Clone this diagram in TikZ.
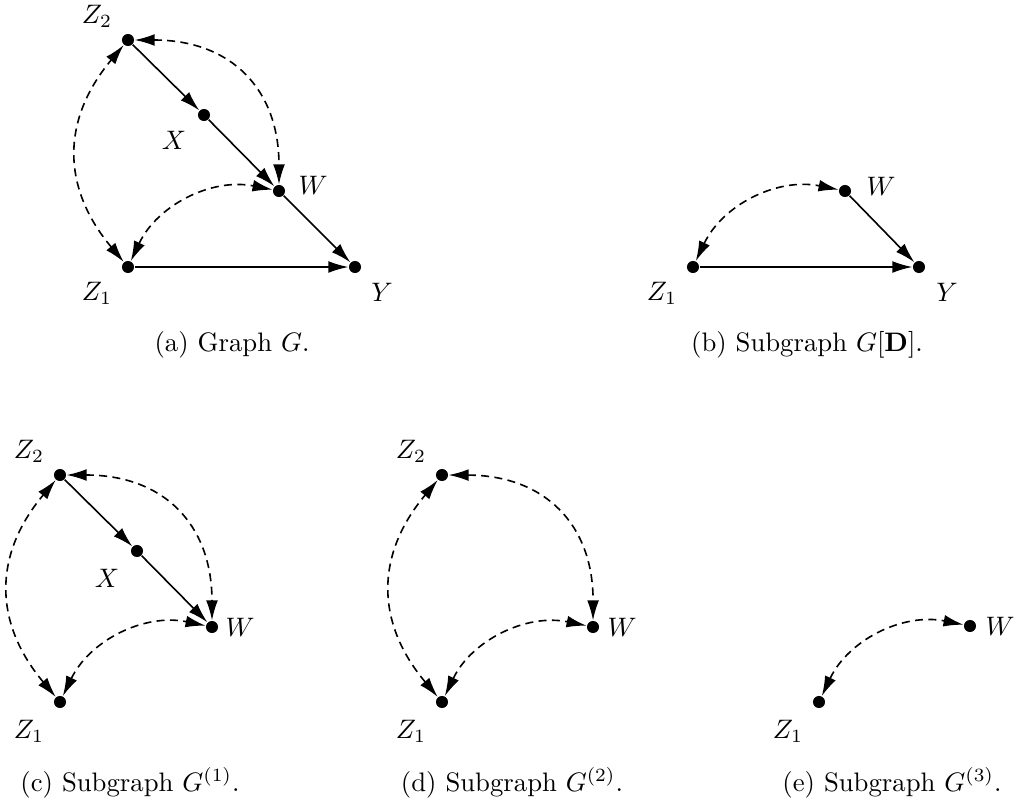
\documentclass[tikz,border=0pt]{standalone}
\usetikzlibrary{arrows.meta}
\begin{document}
\begin{tikzpicture}[x=0.01316cm,y=0.01316cm,
 vtx/.style={circle,fill=black,inner sep=0pt,minimum size=4.5pt},
 lab/.style={inner sep=0pt},
 dir/.style={-{Latex[length=7.5pt,width=4.4pt]},line width=0.6pt},
 bid/.style={{Latex[length=7.5pt,width=4.4pt]}-{Latex[length=7.5pt,width=4.4pt]},line width=0.6pt,dash pattern=on 3pt off 2pt},
 captext/.style={inner sep=0pt}]
\useasboundingbox (0,0) rectangle (1020,805);
% (a)
\node[vtx] (aZ2) at (128,765) {};
\node[vtx] (aX) at (204,690) {};
\node[vtx] (aW) at (279,614) {};
\node[vtx] (aZ1) at (128,538) {};
\node[vtx] (aY) at (355,538) {};
\node[lab] (aZ2l) at (97,789) {$Z_2$};
\node[lab] (aXl) at (174,665) {$X$};
\node[lab] (aWl) at (313,620) {$W$};
\node[lab] (aZ1l) at (97,512) {$Z_1$};
\node[lab] (aYl) at (382,513) {$Y$};
\draw[dir] (aZ2) -- (aX);
\draw[dir] (aX) -- (aW);
\draw[dir] (aW) -- (aY);
\draw[dir] (aZ1) -- (aY);
\draw[bid] (aZ2) to[bend left=45, looseness=1.2] (aW);
\draw[bid] (aZ1) to[bend left=40, looseness=1.15] (aZ2);
\draw[bid] (aZ1) to[bend left=38] (aW);
\node[captext] (capa) at (232,460) {(a) Graph $G$.};
% (b)
\node[vtx] (bW) at (845,614) {};
\node[vtx] (bZ1) at (693,538) {};
\node[vtx] (bY) at (919,538) {};
\node[lab] (bWl) at (881,619) {$W$};
\node[lab] (bZ1l) at (662,512) {$Z_1$};
\node[lab] (bYl) at (947,513) {$Y$};
\draw[dir] (bW) -- (bY);
\draw[dir] (bZ1) -- (bY);
\draw[bid] (bZ1) to[bend left=38] (bW);
\node[captext] (capb) at (807,460) {(b) Subgraph $G[\mathbf{D}]$.};
% (c)
\node[vtx] (cZ2) at (60,330) {};
\node[vtx] (cX) at (137,254) {};
\node[vtx] (cW) at (212,178) {};
\node[vtx] (cZ1) at (60,103) {};
\node[lab] (cZ2l) at (29,354) {$Z_2$};
\node[lab] (cXl) at (107,227) {$X$};
\node[lab] (cWl) at (240,178) {$W$};
\node[lab] (cZ1l) at (29,74) {$Z_1$};
\draw[dir] (cZ2) -- (cX);
\draw[dir] (cX) -- (cW);
\draw[bid] (cZ2) to[bend left=45, looseness=1.2] (cW);
\draw[bid] (cZ1) to[bend left=40, looseness=1.15] (cZ2);
\draw[bid] (cZ1) to[bend left=38] (cW);
\node[captext] (capc) at (130,22) {(c) Subgraph $G^{(1)}$.};
% (d)
\node[vtx] (dZ2) at (442,330) {};
\node[vtx] (dW) at (593,178) {};
\node[vtx] (dZ1) at (442,103) {};
\node[lab] (dZ2l) at (411,354) {$Z_2$};
\node[lab] (dWl) at (622,178) {$W$};
\node[lab] (dZ1l) at (411,74) {$Z_1$};
\draw[bid] (dZ2) to[bend left=45, looseness=1.2] (dW);
\draw[bid] (dZ1) to[bend left=40, looseness=1.15] (dZ2);
\draw[bid] (dZ1) to[bend left=38] (dW);
\node[captext] (capd) at (512,22) {(d) Subgraph $G^{(2)}$.};
% (e)
\node[vtx] (eW) at (970,179) {};
\node[vtx] (eZ1) at (819,103) {};
\node[lab] (eWl) at (1000,179) {$W$};
\node[lab] (eZ1l) at (788,74) {$Z_1$};
\draw[bid] (eZ1) to[bend left=38] (eW);
\node[captext] (cape) at (892,22) {(e) Subgraph $G^{(3)}$.};
\end{tikzpicture}
\end{document}
